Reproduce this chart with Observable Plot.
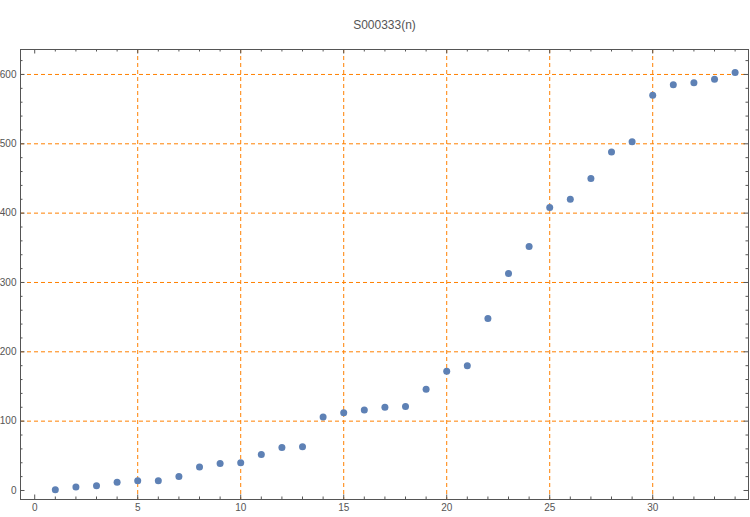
<!DOCTYPE html>
<html>
<head>
<meta charset="utf-8">
<script src="https://cdn.jsdelivr.net/npm/d3@7"></script>
<script src="https://cdn.jsdelivr.net/npm/@observablehq/plot@0.6"></script>
<style>
  html, body { margin: 0; padding: 0; background: #fff; }
  #chart svg { display: block; }
</style>
</head>
<body>
<div id="chart"></div>
<script>
const title = "S000333(n)";
const nValues = [1,2,3,4,5,6,7,8,9,10,11,12,13,14,15,16,17,18,19,20,21,22,23,24,25,26,27,28,29,30,31,32,33,34];
const seqValues = [1,5,7,12,14,14,20,34,39,40,52,62,63,106,112,116,120,121,146,172,180,248,313,352,408,420,450,488,503,570,585,588,593,603];
const xTickLabels = [0,5,10,15,20,25,30];
const xMinorTicks = [1,2,3,4,6,7,8,9,11,12,13,14,16,17,18,19,21,22,23,24,26,27,28,29,31,32,33,34];
const yTickLabels = [0,100,200,300,400,500,600];
const yMinorTicks = [20,40,60,80,120,140,160,180,220,240,260,280,320,340,360,380,420,440,460,480,520,540,560,580,620];
const xGrid = [5,10,15,20,25,30];
const yGrid = [100,200,300,400,500,600];

const data = nValues.map((n, i) => ({n, v: seqValues[i]}));

const W = 750, H = 517;
const mL = 20, mR = 2, mT = 49, mB = 18;
const fw = W - mL - mR, fh = H - mT - mB;
const orange = "#ff8000";
const axisColor = "#555";
const majorLen = 4.5, minorLen = 2.5;

const tickOpts = {stroke: axisColor, strokeWidth: 1};

const chart = Plot.plot({
  width: W, height: H,
  marginLeft: mL, marginRight: mR, marginTop: mT, marginBottom: mB,
  style: {fontFamily: "'Liberation Sans', Arial, sans-serif", fontSize: "10px", color: axisColor, background: "#fff"},
  x: {domain: [-0.69, 34.65]},
  y: {domain: [-13, 636]},
  marks: [
    Plot.ruleX(xGrid, {x: d => d, stroke: orange, strokeWidth: 1, strokeDasharray: "4,3"}),
    Plot.ruleY(yGrid, {y: d => d, stroke: orange, strokeWidth: 1, strokeDasharray: "4,3"}),
    // inward ticks: bottom
    Plot.tickX(xTickLabels, {x: d => d, insetTop: fh - majorLen, ...tickOpts}),
    Plot.tickX(xMinorTicks, {x: d => d, insetTop: fh - minorLen, ...tickOpts}),
    // top
    Plot.tickX(xTickLabels, {x: d => d, insetBottom: fh - majorLen, ...tickOpts}),
    Plot.tickX(xMinorTicks, {x: d => d, insetBottom: fh - minorLen, ...tickOpts}),
    // left
    Plot.tickY(yTickLabels, {y: d => d, insetRight: fw - majorLen, ...tickOpts}),
    Plot.tickY(yMinorTicks, {y: d => d, insetRight: fw - minorLen, ...tickOpts}),
    // right
    Plot.tickY(yTickLabels, {y: d => d, insetLeft: fw - majorLen, ...tickOpts}),
    Plot.tickY(yMinorTicks, {y: d => d, insetLeft: fw - minorLen, ...tickOpts}),
    Plot.frame({stroke: axisColor, strokeWidth: 1}),
    Plot.axisX(xTickLabels, {tickSize: 0, tickPadding: 4, fill: axisColor, label: null, fontSize: 10}),
    Plot.axisY(yTickLabels, {tickSize: 0, tickPadding: 4, fill: axisColor, label: null, fontSize: 10}),
    Plot.dot(data, {x: "n", y: "v", r: 3.5, fill: "#5e81b5", stroke: "none"}),
    Plot.text([title], {frameAnchor: "top", dy: -29, text: d => d, fontSize: 12, fill: axisColor})
  ]
});
document.getElementById("chart").appendChild(chart);
</script>
</body>
</html>
